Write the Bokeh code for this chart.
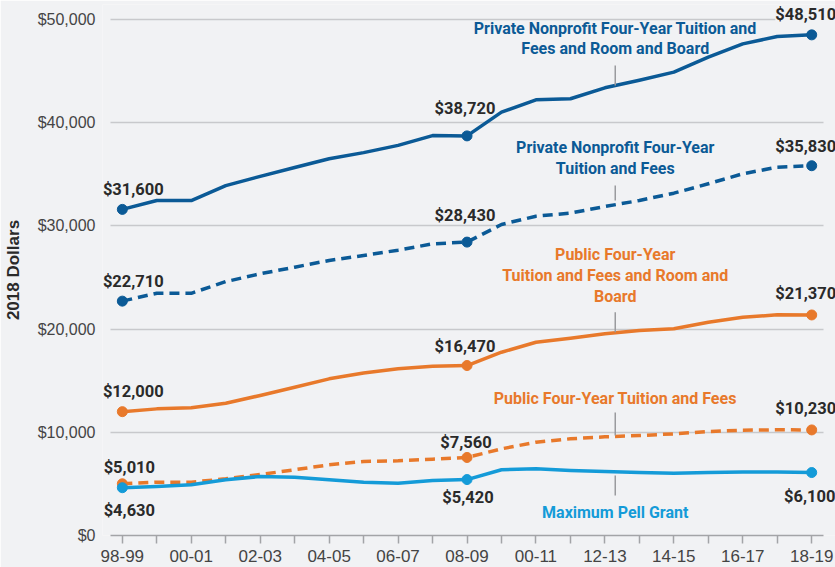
from bokeh.plotting import figure
from bokeh.models import Range1d, FixedTicker, Label, NumeralTickFormatter
from bokeh.embed import file_html
from bokeh.resources import INLINE

# ---------------- data ----------------
years = ["98-99", "99-00", "00-01", "01-02", "02-03", "03-04", "04-05", "05-06",
         "06-07", "07-08", "08-09", "09-10", "10-11", "11-12", "12-13", "13-14",
         "14-15", "15-16", "16-17", "17-18", "18-19"]
tick_labels = ["98-99", "00-01", "02-03", "04-05", "06-07", "08-09", "00-11",
               "12-13", "14-15", "16-17", "18-19"]
y_ticks = [0, 10000, 20000, 30000, 40000, 50000]

private_total = [31600, 32460, 32450, 33900, 34800, 35660, 36500, 37100, 37800, 38750,
                 38720, 41020, 42220, 42320, 43380, 44120, 44900, 46350, 47640, 48350, 48510]
private_tuition = [22710, 23480, 23470, 24600, 25360, 26000, 26650, 27130, 27650, 28260,
                   28430, 30140, 30940, 31240, 31880, 32460, 33170, 34080, 35050, 35690, 35830]
public_total = [12000, 12270, 12370, 12820, 13570, 14370, 15180, 15750, 16150, 16400,
                16470, 17760, 18730, 19120, 19540, 19860, 20030, 20670, 21150, 21380, 21370]
public_tuition = [5010, 5170, 5170, 5490, 5910, 6370, 6850, 7170, 7240, 7400,
                  7560, 8400, 9040, 9370, 9560, 9690, 9850, 10080, 10200, 10240, 10230]
pell = [4630, 4750, 4910, 5400, 5720, 5650, 5400, 5170, 5070, 5330,
        5420, 6370, 6460, 6300, 6200, 6100, 6040, 6100, 6150, 6150, 6100]
marker_idx = [0, 10, 20]

# ---------------- style ----------------
BG = "#f1f2f4"
DARK = "#0b5a96"
ORANGE = "#e8792b"
LIGHT = "#149bd8"
TXT = "#2a2a2a"
TICK_TXT = "#444444"
GRID = "#c8c9cc"
AXIS = "#a3a4a7"
LBL_FONT = "Roboto"
X_BOUNDS = (-0.345, 20.345)

x = list(range(len(years)))

p = figure(width=835, height=567, output_backend="svg", toolbar_location=None,
           x_range=Range1d(-0.5755, 20.69), y_range=Range1d(0, 51453),
           min_border_left=96, min_border_right=0, min_border_top=4, min_border_bottom=32)
p.background_fill_color = BG
p.border_fill_color = BG
p.outline_line_color = None

p.xgrid.grid_line_color = None
p.ygrid.grid_line_color = GRID
p.ygrid.grid_line_width = 1.5
p.ygrid.ticker = FixedTicker(ticks=y_ticks[1:])
p.ygrid.cross_bounds = X_BOUNDS

p.yaxis.ticker = FixedTicker(ticks=y_ticks)
p.yaxis.formatter = NumeralTickFormatter(format="$0,0")
p.yaxis.axis_line_color = None
p.yaxis.major_tick_line_color = None
p.yaxis.minor_tick_line_color = None
p.yaxis.major_label_standoff = 1
p.yaxis.major_label_text_font = "Liberation Sans"
p.yaxis.major_label_text_font_size = "16px"
p.yaxis.major_label_text_color = TICK_TXT
p.yaxis.axis_label = "2018 Dollars"
p.yaxis.axis_label_text_font = "Liberation Sans"
p.yaxis.axis_label_text_font_style = "bold"
p.yaxis.axis_label_text_font_size = "17px"
p.yaxis.axis_label_text_color = TXT
p.yaxis.axis_label_standoff = 12

p.xaxis.ticker = FixedTicker(ticks=x)
p.xaxis.bounds = X_BOUNDS
overrides = {}
for i in x:
    overrides[i] = tick_labels[i // 2] if i % 2 == 0 else ""
p.xaxis.major_label_overrides = overrides
p.xaxis.axis_line_color = AXIS
p.xaxis.axis_line_width = 1.5
p.xaxis.major_tick_line_color = AXIS
p.xaxis.major_tick_line_width = 1.5
p.xaxis.major_tick_in = 0
p.xaxis.major_tick_out = 8
p.xaxis.minor_tick_line_color = None
p.xaxis.major_label_standoff = 6
p.xaxis.major_label_text_font = "Liberation Sans"
p.xaxis.major_label_text_font_size = "17px"
p.xaxis.major_label_text_color = TICK_TXT

# ---------------- series ----------------
series = [
    (private_total, DARK, "solid"),
    (private_tuition, DARK, "10 6"),
    (public_total, ORANGE, "solid"),
    (public_tuition, ORANGE, "10 6"),
    (pell, LIGHT, "solid"),
]
for vals, col, dash in series:
    p.line(x, vals, line_color=col, line_width=3.5, line_dash=dash, line_join="round")
    p.scatter([x[i] for i in marker_idx], [vals[i] for i in marker_idx],
              size=10, fill_color=col, line_color=col)

# ---------------- value labels ----------------
value_labels = [
    (private_total, 0, 11, 20), (private_total, 10, -2, 27), (private_total, 20, -6, 20),
    (private_tuition, 0, 11, 20), (private_tuition, 10, -2, 27), (private_tuition, 20, -6, 19),
    (public_total, 0, 11, 20), (public_total, 10, -2, 19), (public_total, 20, -6, 21),
    (public_tuition, 0, 7, 16), (public_tuition, 10, -1, 15), (public_tuition, 20, -6, 21),
    (pell, 0, 7, -23), (pell, 10, 1, -18), (pell, 20, -2, -24),
]
for vals, i, dx, dy in value_labels:
    lab = Label(x=x[i], y=vals[i], x_offset=dx, y_offset=dy, text=f"${vals[i]:,}",
                text_align="center", text_baseline="middle",
                text_font=LBL_FONT, text_font_style="bold", text_font_size="16.5px",
                text_color=TXT)
    if vals is private_total and i == 20:
        lab.background_fill_color = BG
    p.add_layout(lab)

# ---------------- series names with leader lines ----------------
name_x = 14.3
names = [
    (["Private Nonprofit Four-Year Tuition and", "Fees and Room and Board"], [49150, 47160], DARK, (45540, 43600)),
    (["Private Nonprofit Four-Year", "Tuition and Fees"], [37630, 35530], DARK, (33910, 32460)),
    (["Public Four-Year", "Tuition and Fees and Room and", "Board"], [27230, 25190, 23190], ORANGE, (21640, 19700)),
    (["Public Four-Year Tuition and Fees"], [13250], ORANGE, (11920, 9690)),
    (["Maximum Pell Grant"], [2260], LIGHT, (5810, 3880)),
]
for lines, ys, col, (y0, y1) in names:
    for t, yy in zip(lines, ys):
        p.add_layout(Label(x=name_x, y=yy, text=t, text_align="center", text_baseline="middle",
                           text_font=LBL_FONT, text_font_style="bold", text_font_size="16px",
                           text_color=col))
    p.segment(x0=[name_x], y0=[y0], x1=[name_x], y1=[y1], line_color="#9a9b9e", line_width=1.5)

open("out.html", "w").write(file_html(p, INLINE))
